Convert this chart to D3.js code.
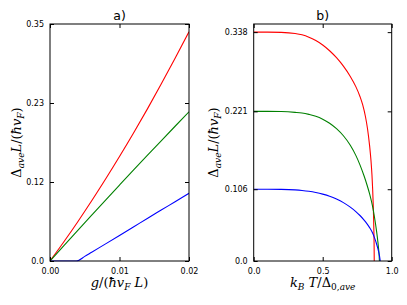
<!DOCTYPE html>
<html><head><meta charset="utf-8">
<script src="https://cdn.jsdelivr.net/npm/d3@7"></script>
<style>
html,body{margin:0;padding:0;background:#fff;}
svg{display:block;}
</style></head>
<body>
<svg id="chart" width="407" height="305"></svg>
<script>
// ---------- Data ----------
// Panel a): gap vs coupling g/(ħ v_F L)
const gGrid   = [0, 0.002, 0.004, 0.006, 0.008, 0.010, 0.012, 0.014, 0.016, 0.018, 0.020];
const redA    = [0, 0.0284, 0.0580, 0.0889, 0.1210, 0.1542, 0.1886, 0.2243, 0.2613, 0.2993, 0.3386];
const greenA  = [0, 0.0227, 0.0453, 0.0677, 0.0900, 0.1121, 0.1341, 0.1559, 0.1775, 0.1990, 0.2204];
const blueAg  = [0, 0.0038, 0.005, 0.006, 0.008, 0.010, 0.012, 0.014, 0.016, 0.018, 0.020];
const blueA   = [0, 0, 0.0068, 0.0130, 0.0253, 0.0377, 0.0502, 0.0628, 0.0752, 0.0876, 0.1000];
const xTicksA = [0, 0.01, 0.02];
const xLabelsA = ["0.00", "0.01", "0.02"];
const yTicksA = [0, 0.35/3, 0.70/3, 0.35];
const yLabelsA = ["0.0", "0.12", "0.23", "0.35"];

// Panel b): gap vs temperature k_B T / Δ_0,ave
const redBt   = [0, 0.1, 0.2, 0.3, 0.35, 0.4, 0.45, 0.5, 0.55, 0.6, 0.65, 0.7, 0.74, 0.77, 0.79, 0.81, 0.825, 0.84, 0.85, 0.857, 0.862, 0.866, 0.869, 0.871, 0.8725, 0.8735];
const redB    = [0.338, 0.338, 0.3377, 0.3360, 0.3340, 0.3305, 0.3255, 0.3190, 0.3105, 0.3002, 0.2877, 0.2725, 0.2575, 0.2430, 0.2305, 0.2130, 0.1950, 0.1700, 0.1480, 0.1270, 0.1060, 0.0840, 0.0620, 0.0430, 0.0240, 0];
const greenBt = [0, 0.1, 0.2, 0.3, 0.35, 0.4, 0.45, 0.5, 0.55, 0.6, 0.65, 0.7, 0.74, 0.77, 0.80, 0.82, 0.84, 0.86, 0.875, 0.89, 0.90, 0.906, 0.909, 0.911];
const greenB  = [0.221, 0.221, 0.2207, 0.2195, 0.2185, 0.2165, 0.2138, 0.2095, 0.2035, 0.1955, 0.1850, 0.1710, 0.1560, 0.1420, 0.1255, 0.1130, 0.0990, 0.0820, 0.0650, 0.0445, 0.0280, 0.0160, 0.0080, 0];
const blueBt  = [0, 0.1, 0.2, 0.3, 0.35, 0.4, 0.45, 0.5, 0.55, 0.6, 0.65, 0.7, 0.74, 0.77, 0.8, 0.82, 0.84, 0.86, 0.875, 0.89, 0.90, 0.907, 0.912, 0.915, 0.917];
const blueB   = [0.106, 0.106, 0.1058, 0.1050, 0.1042, 0.1030, 0.1012, 0.0988, 0.0957, 0.0915, 0.0862, 0.0795, 0.0730, 0.0672, 0.0605, 0.0553, 0.0493, 0.0420, 0.0345, 0.0255, 0.0182, 0.0122, 0.0068, 0.0030, 0];
const xTicksB = [0, 0.5, 1.0];
const xLabelsB = ["0.0", "0.5", "1.0"];
const yTicksB = [0, 0.106, 0.221, 0.338];
const yLabelsB = ["0.0", "0.106", "0.221", "0.338"];

const colors = {red: "#ff0000", green: "#008000", blue: "#0000ff"};

// ---------- Drawing ----------
const svg = d3.select("#chart");
const tickFont = "DejaVu Sans, sans-serif";
const mathFont = "'DejaVu Serif', 'Liberation Serif', serif";
const mathSize = 13;
const subSize = 9;

function part(t, s, opts) {
  const ts = t.append("tspan").text(s);
  if (opts && opts.italic) ts.attr("font-style", "italic");
  if (opts && opts.sub) ts.attr("font-size", subSize);
  if (opts && opts.dy) ts.attr("dy", opts.dy);
  return ts;
}

function yLabelParts(t) {
  part(t, "Δ");
  part(t, "ave", {italic: true, sub: true, dy: 3});
  part(t, "L", {italic: true, dy: -3});
  part(t, "/(");
  part(t, "ħv", {italic: true});
  part(t, "F", {italic: true, sub: true, dy: 3});
  part(t, ")", {dy: -3});
}

function panel(opt) {
  const x = d3.scaleLinear().domain(opt.xDomain).range([opt.x0, opt.x1]);
  const y = d3.scaleLinear().domain(opt.yDomain).range([opt.y1, opt.y0]);
  const g = svg.append("g");
  const clipId = "clip" + opt.name;
  svg.append("clipPath").attr("id", clipId).append("rect")
    .attr("x", opt.x0).attr("y", opt.y0 - 1)
    .attr("width", opt.x1 - opt.x0).attr("height", opt.y1 - opt.y0 + 1.5);

  const line = d3.line().x(d => x(d[0])).y(d => y(d[1])).curve(d3.curveMonotoneX);
  opt.series.forEach(s => {
    const pts = s.xs.map((v, i) => [v, s.ys[i]]);
    g.append("path").attr("d", line(pts))
      .attr("fill", "none").attr("stroke", s.color).attr("stroke-width", 1.1)
      .attr("clip-path", `url(#${clipId})`);
  });

  const tl = 4;
  const bottom = d3.axisBottom(x).tickValues(opt.xTicks).tickSizeInner(-tl).tickSizeOuter(0)
    .tickPadding(7).tickFormat((d, i) => opt.xLabels[i]);
  const ba = g.append("g").attr("transform", `translate(0,${opt.y1})`).call(bottom);
  const top = d3.axisTop(x).tickValues(opt.xTicks).tickSizeInner(-tl).tickSizeOuter(0).tickFormat("");
  const ta = g.append("g").attr("transform", `translate(0,${opt.y0})`).call(top);
  const left = d3.axisLeft(y).tickValues(opt.yTicks).tickSizeInner(-tl).tickSizeOuter(0)
    .tickPadding(6).tickFormat((d, i) => opt.yLabels[i]);
  const la = g.append("g").attr("transform", `translate(${opt.x0},0)`).call(left);
  const right = d3.axisRight(y).tickValues(opt.yTicks).tickSizeInner(-tl).tickSizeOuter(0).tickFormat("");
  const ra = g.append("g").attr("transform", `translate(${opt.x1},0)`).call(right);
  [ba, ta, la, ra].forEach(a => {
    a.select(".domain").remove();
    a.selectAll("line").attr("stroke", "#000").attr("stroke-width", 1);
    a.selectAll("text").attr("font-family", tickFont).attr("font-size", 8).attr("fill", "#000");
  });
  ba.selectAll("text").attr("dy", "0.71em");

  g.append("rect").attr("x", opt.x0).attr("y", opt.y0)
    .attr("width", opt.x1 - opt.x0).attr("height", opt.y1 - opt.y0)
    .attr("fill", "none").attr("stroke", "#000").attr("stroke-width", 1);

  g.append("text").attr("x", (opt.x0 + opt.x1) / 2).attr("y", opt.y0 - 4.5)
    .attr("text-anchor", "middle").attr("font-family", tickFont).attr("font-size", 12.5)
    .text(opt.title);

  const xl = g.append("text").attr("x", (opt.x0 + opt.x1) / 2).attr("y", 286.5)
    .attr("text-anchor", "middle").attr("font-family", mathFont).attr("font-size", mathSize);
  opt.xLabelParts(xl);

  const yl = g.append("text")
    .attr("transform", `translate(${opt.yLabelX},${(opt.y0 + opt.y1) / 2}) rotate(-90)`)
    .attr("text-anchor", "middle").attr("font-family", mathFont).attr("font-size", mathSize);
  yLabelParts(yl);
}

panel({
  name: "a", title: "a)",
  x0: 50, x1: 189, y0: 24, y1: 261, yLabelX: 20.5,
  xDomain: [0, 0.02], yDomain: [0, 0.35],
  xTicks: xTicksA, xLabels: xLabelsA, yTicks: yTicksA, yLabels: yLabelsA,
  series: [
    {xs: gGrid, ys: redA, color: colors.red},
    {xs: gGrid, ys: greenA, color: colors.green},
    {xs: blueAg, ys: blueA, color: colors.blue}
  ],
  xLabelParts: t => {
    part(t, "g", {italic: true});
    part(t, "/(");
    part(t, "ħv", {italic: true});
    part(t, "F", {italic: true, sub: true, dy: 3});
    part(t, " L", {italic: true, dy: -3});
    part(t, ")");
  }
});

panel({
  name: "b", title: "b)",
  x0: 253.7, x1: 391.7, y0: 24, y1: 261, yLabelX: 218,
  xDomain: [0, 1], yDomain: [0, 0.35],
  xTicks: xTicksB, xLabels: xLabelsB, yTicks: yTicksB, yLabels: yLabelsB,
  series: [
    {xs: redBt, ys: redB, color: colors.red},
    {xs: greenBt, ys: greenB, color: colors.green},
    {xs: blueBt, ys: blueB, color: colors.blue}
  ],
  xLabelParts: t => {
    part(t, "k", {italic: true});
    part(t, "B", {italic: true, sub: true, dy: 3});
    part(t, " T", {italic: true, dy: -3});
    part(t, "/Δ");
    part(t, "0,", {sub: true, dy: 3});
    part(t, "ave", {italic: true, sub: true});
  }
});
</script>
</body></html>
